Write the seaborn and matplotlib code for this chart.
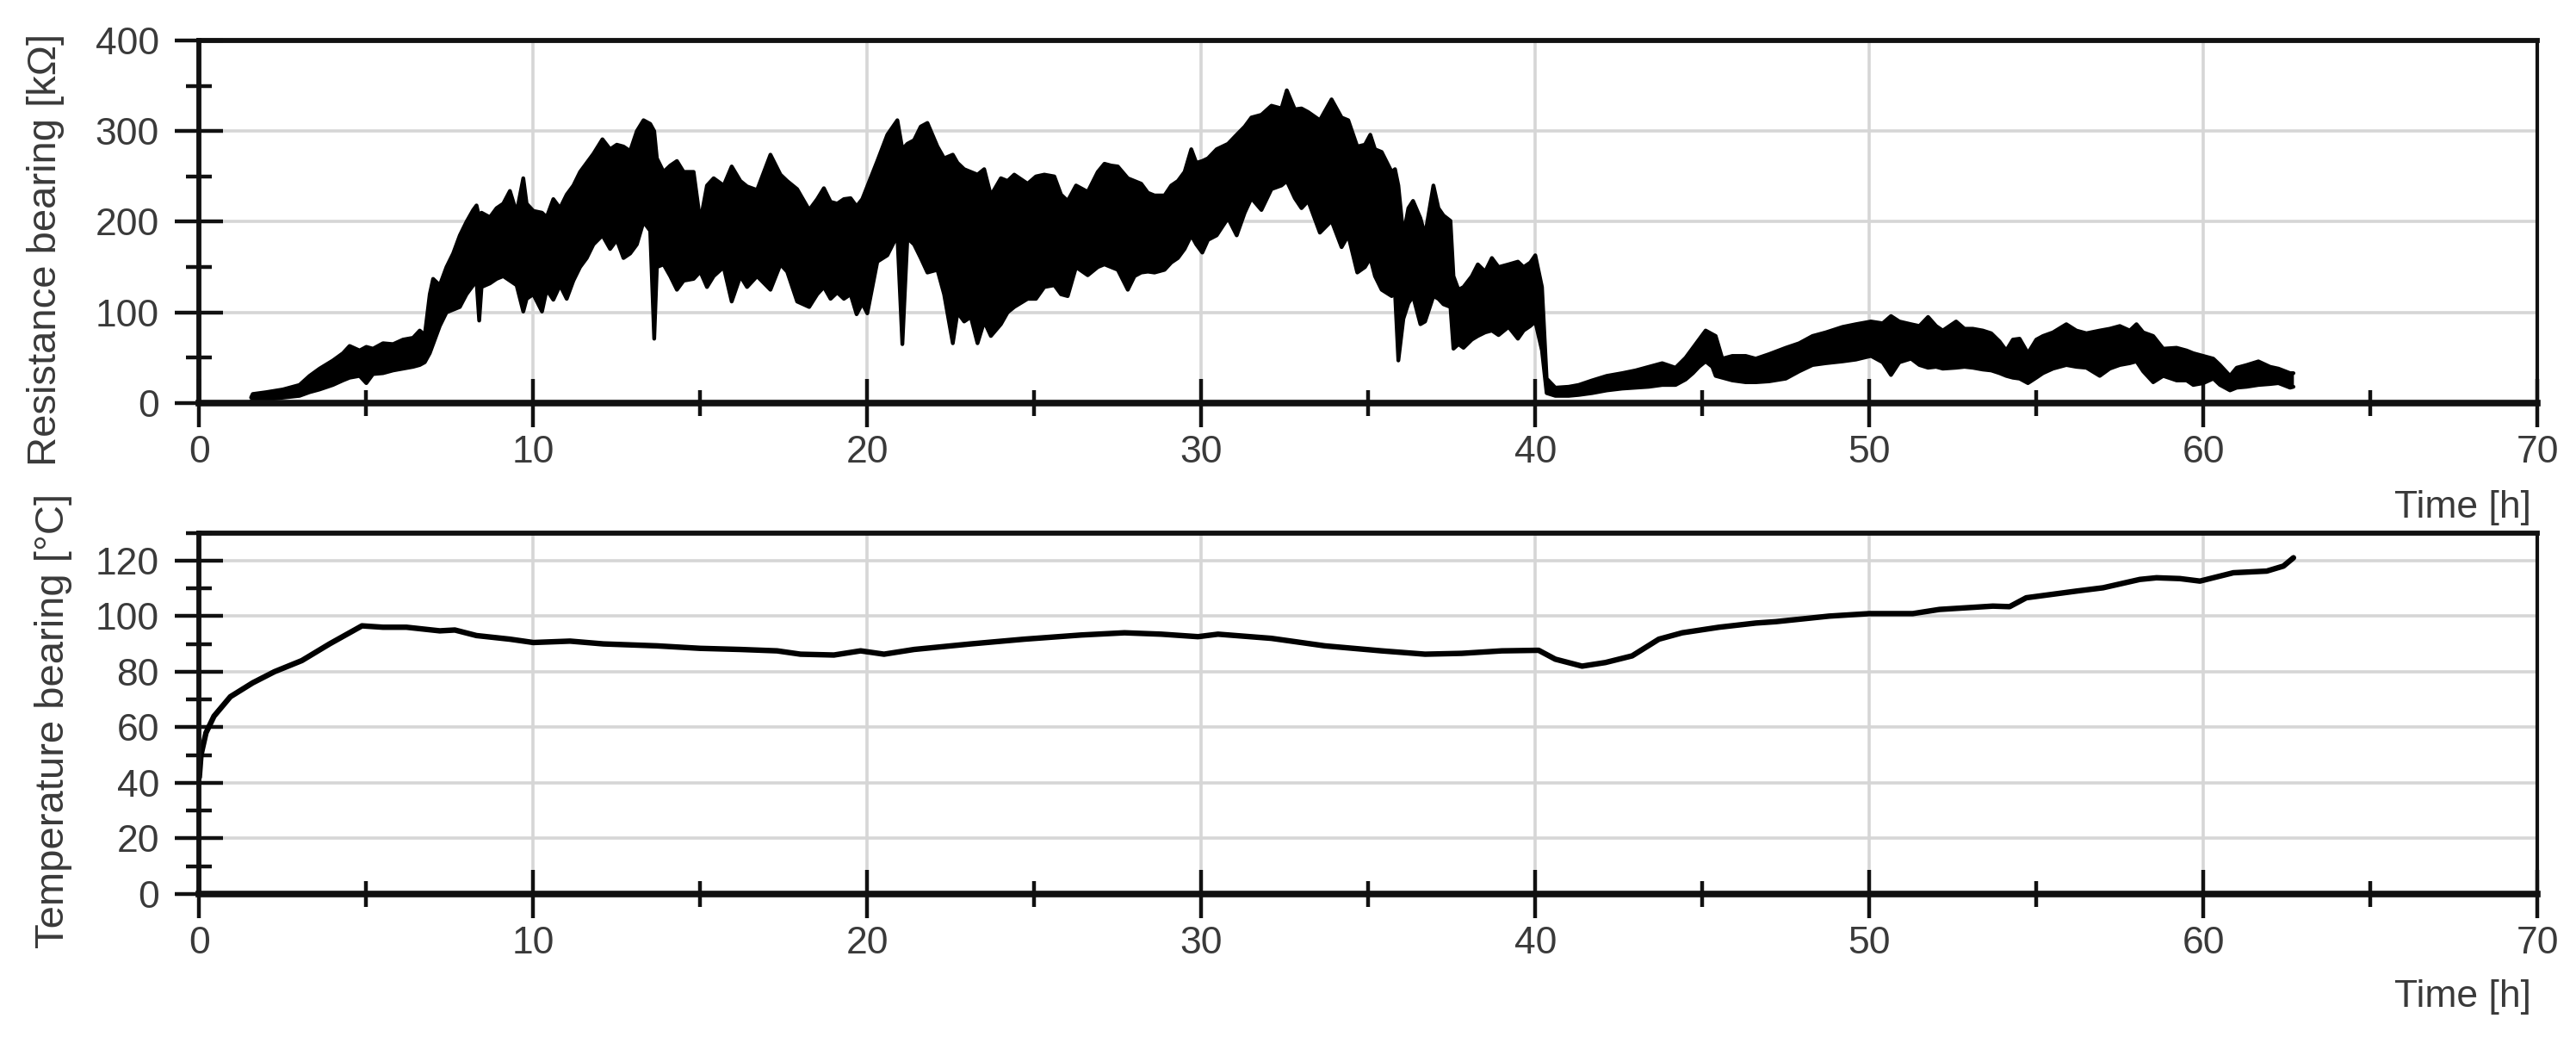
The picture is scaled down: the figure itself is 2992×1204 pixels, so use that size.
import matplotlib
matplotlib.use("Agg")
import matplotlib.pyplot as plt
import seaborn as sns
import pandas as pd
from matplotlib.ticker import MultipleLocator

# resistance signal, read as lower / upper envelope of the dense trace
res_time = [1.55, 1.6, 2.0, 2.5, 3.0, 3.3, 3.6, 4.0, 4.3, 4.5, 4.8, 5.0, 5.2, 5.5, 5.8, 6.1, 6.4, 6.6, 6.75, 6.9,
            7.0, 7.2, 7.4, 7.6, 7.8, 8.0, 8.2, 8.3, 8.38, 8.45, 8.7, 8.9, 9.1, 9.3, 9.5, 9.7, 9.8, 10.0, 10.26, 10.4,
            10.6, 10.8, 11.0, 11.2, 11.4, 11.6, 11.8, 12.07, 12.3, 12.5, 12.7, 12.9, 13.1, 13.3, 13.5, 13.62, 13.7, 13.9, 14.1, 14.3,
            14.5, 14.8, 15.0, 15.2, 15.4, 15.7, 15.94, 16.2, 16.4, 16.7, 17.1, 17.4, 17.6, 17.9, 18.26, 18.5, 18.7, 18.9, 19.1, 19.3,
            19.5, 19.68, 19.85, 20.0, 20.3, 20.6, 20.9, 21.05, 21.2, 21.4, 21.6, 21.8, 22.1, 22.3, 22.56, 22.7, 22.9, 23.1, 23.3, 23.5,
            23.7, 24.0, 24.2, 24.4, 24.8, 25.05, 25.3, 25.6, 25.8, 26.0, 26.25, 26.6, 26.9, 27.1, 27.3, 27.5, 27.8, 28.0, 28.2, 28.4,
            28.6, 28.9, 29.1, 29.3, 29.5, 29.7, 29.85, 30.03, 30.2, 30.46, 30.8, 31.06, 31.3, 31.5, 31.8, 32.1, 32.4, 32.56, 32.8, 33.0,
            33.2, 33.55, 33.9, 34.2, 34.4, 34.67, 34.9, 35.06, 35.2, 35.4, 35.7, 35.8, 35.9, 36.05, 36.2, 36.34, 36.56, 36.7, 36.95, 37.1,
            37.25, 37.46, 37.55, 37.7, 37.85, 38.1, 38.28, 38.5, 38.7, 38.9, 39.2, 39.48, 39.65, 39.85, 40.0, 40.2, 40.34, 40.6, 41.0, 41.3,
            41.7, 42.14, 42.6, 43.0, 43.4, 43.8, 44.2, 44.5, 44.72, 44.9, 45.1, 45.3, 45.4, 45.6, 45.9, 46.3, 46.6, 47.0, 47.5, 47.9,
            48.3, 48.7, 49.2, 49.6, 50.05, 50.4, 50.65, 50.9, 51.25, 51.5, 51.76, 52.0, 52.2, 52.6, 52.85, 53.1, 53.4, 53.65, 53.9, 54.1,
            54.3, 54.5, 54.75, 55.0, 55.2, 55.5, 55.9, 56.2, 56.5, 56.9, 57.2, 57.5, 57.8, 58.0, 58.2, 58.5, 58.8, 59.2, 59.5, 59.7,
            60.0, 60.3, 60.5, 60.8, 61.0, 61.3, 61.65, 62.0, 62.25, 62.6, 62.7]
res_low = [2, 3, 4, 6, 8, 12, 15, 20, 25, 28, 30, 22, 32, 33, 36, 38, 40, 42, 45, 55,
           65, 85, 100, 103, 106, 120, 130, 135, 91, 128, 132, 137, 140, 135, 130, 101, 115, 120, 101, 125,
           114, 130, 115, 135, 150, 160, 175, 185, 170, 180, 160, 165, 175, 200, 190, 71, 150, 153, 140, 125,
           135, 137, 145, 128, 140, 150, 112, 140, 128, 140, 125, 153, 145, 112, 106, 120, 128, 115, 122, 115,
           120, 98, 110, 99, 156, 163, 185, 65, 182, 175, 160, 144, 147, 120, 66, 100, 90, 95, 66, 90,
           74, 87, 100, 106, 115, 115, 128, 130, 120, 118, 150, 141, 150, 153, 150, 147, 125, 140, 144, 145,
           144, 147, 155, 160, 170, 185, 175, 166, 180, 185, 204, 185, 210, 226, 213, 236, 240, 245, 226, 215,
           223, 188, 201, 172, 185, 144, 150, 160, 140, 125, 118, 122, 47, 93, 110, 118, 87, 90, 118, 115,
           109, 106, 60, 65, 61, 70, 74, 78, 80, 75, 84, 71, 80, 85, 90, 58, 11, 8, 8, 9,
           11, 14, 16, 17, 18, 20, 20, 26, 33, 40, 46, 40, 30, 28, 25, 23, 23, 24, 27, 35,
           42, 44, 46, 48, 52, 45, 31, 45, 49, 42, 39, 40, 38, 39, 40, 39, 37, 36, 33, 30,
           28, 27, 22, 28, 33, 38, 42, 40, 39, 30, 38, 42, 44, 46, 35, 23, 30, 25, 25, 20,
           22, 27, 20, 14, 17, 18, 20, 21, 22, 17, 18]
res_high = [6, 10, 12, 15, 20, 30, 38, 47, 55, 63, 58, 62, 60, 66, 65, 70, 72, 80, 75, 120,
            137, 130, 150, 165, 185, 200, 213, 218, 205, 210, 205, 215, 220, 234, 210, 248, 220, 212, 210, 205,
            225, 215, 230, 240, 255, 265, 275, 291, 280, 285, 283, 278, 300, 312, 308, 300, 270, 255, 262, 267,
            255, 255, 200, 240, 248, 240, 261, 245, 239, 235, 274, 252, 245, 236, 213, 225, 237, 222, 220, 225,
            226, 217, 225, 239, 267, 296, 312, 280, 286, 290, 305, 309, 283, 270, 274, 265, 258, 255, 252, 258,
            229, 248, 245, 252, 242, 250, 252, 250, 230, 223, 240, 233, 255, 264, 262, 261, 248, 245, 242, 232,
            229, 229, 240, 245, 255, 280, 265, 267, 270, 280, 286, 296, 305, 315, 318, 328, 325, 345, 324, 325,
            321, 312, 335, 315, 312, 283, 285, 296, 280, 277, 255, 258, 240, 185, 215, 223, 204, 185, 240, 215,
            207, 201, 140, 125, 128, 140, 153, 145, 160, 150, 153, 156, 150, 155, 163, 128, 27, 17, 18, 20,
            25, 30, 33, 36, 40, 44, 39, 50, 61, 70, 80, 76, 74, 49, 52, 52, 49, 54, 61, 66,
            74, 78, 84, 87, 90, 88, 96, 90, 87, 85, 95, 85, 80, 90, 82, 82, 80, 77, 68, 58,
            70, 71, 55, 70, 74, 78, 87, 80, 77, 80, 82, 85, 80, 87, 78, 74, 60, 61, 58, 55,
            52, 49, 42, 30, 39, 42, 46, 40, 38, 33, 33]

# bearing temperature
temp_time = [0.0, 0.05, 0.2, 0.44, 0.93, 1.6, 2.25, 3.07, 3.9, 4.87, 5.5, 6.2, 7.2, 7.65, 8.3, 9.3, 10.0, 11.1, 12.1, 13.7,
             15.0, 16.2, 17.3, 18.0, 19.0, 19.8, 20.5, 21.4, 23.1, 24.7, 26.4, 27.7, 28.8, 29.9, 30.5, 32.1, 33.7, 35.4, 36.7, 37.8,
             39.0, 40.1, 40.6, 41.4, 42.1, 42.9, 43.7, 44.4, 45.5, 46.6, 47.2, 48.8, 50.0, 51.3, 52.1, 53.7, 54.2, 54.7, 56.2, 57.0,
             58.1, 58.6, 59.3, 59.9, 60.9, 61.9, 62.4, 62.7]
temp_val = [42, 50, 58, 64, 71, 76, 80, 84, 90, 96.5, 96, 96, 94.7, 95, 93, 91.7, 90.5, 91, 90, 89.3,
            88.4, 88, 87.5, 86.3, 86, 87.5, 86.3, 88, 90, 91.7, 93.2, 94, 93.5, 92.6, 93.5, 92, 89.3, 87.5, 86.3, 86.6,
            87.5, 87.7, 84.5, 82, 83.3, 85.7, 91.7, 94, 96, 97.5, 98, 100, 100.9, 100.9, 102.4, 103.6, 103.4, 106.6, 109, 110.2,
            113.2, 113.8, 113.5, 112.6, 115.6, 116.2, 118, 121]

res = pd.DataFrame({"time": res_time, "low": res_low, "high": res_high})
temp = pd.DataFrame({"time": temp_time, "temp": temp_val})

sns.set_style("white")
plt.rcParams["font.family"] = ["Liberation Sans", "DejaVu Sans"]
txt = "#3a3a3a"

fig = plt.figure(figsize=(29.92, 12.04), dpi=100)
ax1 = fig.add_axes([0.07737, 0.6113, 0.9076, 0.3497])
ax2 = fig.add_axes([0.07737, 0.13787, 0.9076, 0.3484])

# top: resistance band
ax1.fill_between(res["time"], res["low"], res["high"], color="black", lw=0, zorder=3)
sns.lineplot(data=res, x="time", y="high", ax=ax1, color="black", linewidth=3.2, zorder=3)
sns.lineplot(data=res, x="time", y="low", ax=ax1, color="black", linewidth=3.2, zorder=3)
ax1.set_ylim(0, 400)
ax1.yaxis.set_major_locator(MultipleLocator(100))
ax1.yaxis.set_minor_locator(MultipleLocator(50))

# bottom: temperature
sns.lineplot(data=temp, x="time", y="temp", ax=ax2, color="black", linewidth=4.6, zorder=3)
ax2.set_ylim(0, 130)
ax2.yaxis.set_major_locator(MultipleLocator(20))
ax2.yaxis.set_minor_locator(MultipleLocator(10))

for ax in (ax1, ax2):
    ax.set_xlim(0, 70)
    ax.xaxis.set_major_locator(MultipleLocator(10))
    ax.xaxis.set_minor_locator(MultipleLocator(5))
    ax.set_xlabel("")
    ax.set_ylabel("")
    ax.grid(True, which="major", color="#d6d6d6", lw=2.6, zorder=0)
    ax.set_axisbelow(True)
    ax.tick_params(which="major", direction="inout", length=41, width=3.2, color="#111111",
                   labelsize=32, labelcolor=txt)
    ax.tick_params(axis="x", which="major", pad=6)
    ax.tick_params(axis="y", which="major", pad=13)
    ax.tick_params(which="minor", direction="inout", length=21, width=3.2, color="#111111")
    ax.tick_params(bottom=True, left=True, which="both")
    for side, w in (("bottom", 5.5), ("left", 4.2), ("top", 4.2), ("right", 3.0)):
        ax.spines[side].set_visible(True)
        ax.spines[side].set_color("#111111")
        ax.spines[side].set_linewidth(w)
        ax.spines[side].set_zorder(4)

fig.text(0.0177, 1 - 290 / 1204, "Resistance bearing [kΩ]", rotation=90, ha="center", va="center",
         fontsize=34, color=txt)
fig.text(0.0207, 1 - 837 / 1204, "Temperature bearing [°C]", rotation=90, ha="center", va="center",
         fontsize=34, color=txt)
fig.text(2940 / 2992, 1 - 590 / 1204, "Time [h]", ha="right", va="center", fontsize=32, color=txt)
fig.text(2940 / 2992, 1 - 1157 / 1204, "Time [h]", ha="right", va="center", fontsize=32, color=txt)

fig.savefig("out.png", dpi=100, facecolor="white")
